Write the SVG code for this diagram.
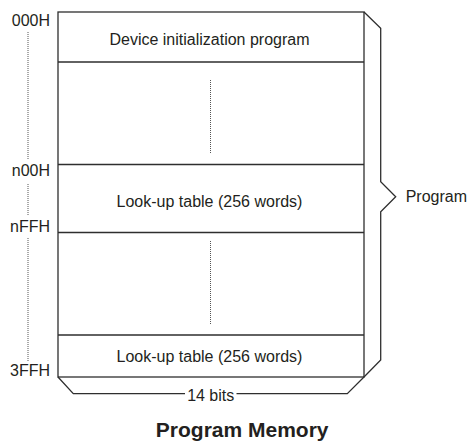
<svg xmlns="http://www.w3.org/2000/svg" width="469" height="441" viewBox="0 0 469 441">
<style>
.ln{fill:none;stroke:#2e2e2e;stroke-width:1.3}
.dot{fill:none;stroke:#555;stroke-width:1;stroke-dasharray:1 1}
.t{font-family:"Liberation Sans",Arial,sans-serif;font-size:16px;fill:#231f20}
.m{text-anchor:middle}
.e{text-anchor:end}
.b{font-weight:bold;font-size:21px}
</style>
<rect width="469" height="441" fill="#fff"/>
<g id="memory">
<rect class="ln" x="58" y="12" width="306" height="365" fill="#fff"/>
</g>
<g id="init">
<text class="t m" x="209.5" y="44.5">Device initialization program</text>
</g>
<g id="gap1">
<line class="ln" x1="58" y1="62" x2="364" y2="62"/>
<line class="dot" x1="210.5" y1="80" x2="210.5" y2="154"/>
</g>
<g id="table1">
<line class="ln" x1="58" y1="164.5" x2="364" y2="164.5"/>
<text class="t m" x="209.5" y="206.5">Look-up table (256 words)</text>
</g>
<g id="gap2">
<line class="ln" x1="58" y1="232.5" x2="364" y2="232.5"/>
<line class="dot" x1="210.5" y1="241" x2="210.5" y2="324"/>
</g>
<g id="table2">
<line class="ln" x1="58" y1="335" x2="364" y2="335"/>
<text class="t m" x="209.5" y="361.5">Look-up table (256 words)</text>
</g>
<g id="addresses">
<text class="t e" x="50" y="26">000H</text>
<text class="t e" x="50" y="176">n00H</text>
<text class="t e" x="50" y="232">nFFH</text>
<text class="t e" x="50" y="375.5">3FFH</text>
<line class="dot" x1="28" y1="32" x2="28" y2="160"/>
<line class="dot" x1="28" y1="184" x2="28" y2="215"/>
<line class="dot" x1="28" y1="238" x2="28" y2="362"/>
</g>
<g id="connectors">
<path class="ln" d="M364,12 L380.7,28.3 V181.7 L395.7,196.7 L380.7,211.7 V360 L364,377"/>
<path class="ln" d="M58,377 L73.3,393.7 H185 M236.5,393.7 H347.3 L364,377"/>
</g>
<g id="labels">
<text class="t" x="405.7" y="202.3">Program</text>
<text class="t m" x="210.7" y="400.5">14 bits</text>
<text class="t m b" x="242.2" y="437">Program Memory</text>
</g>
</svg>
